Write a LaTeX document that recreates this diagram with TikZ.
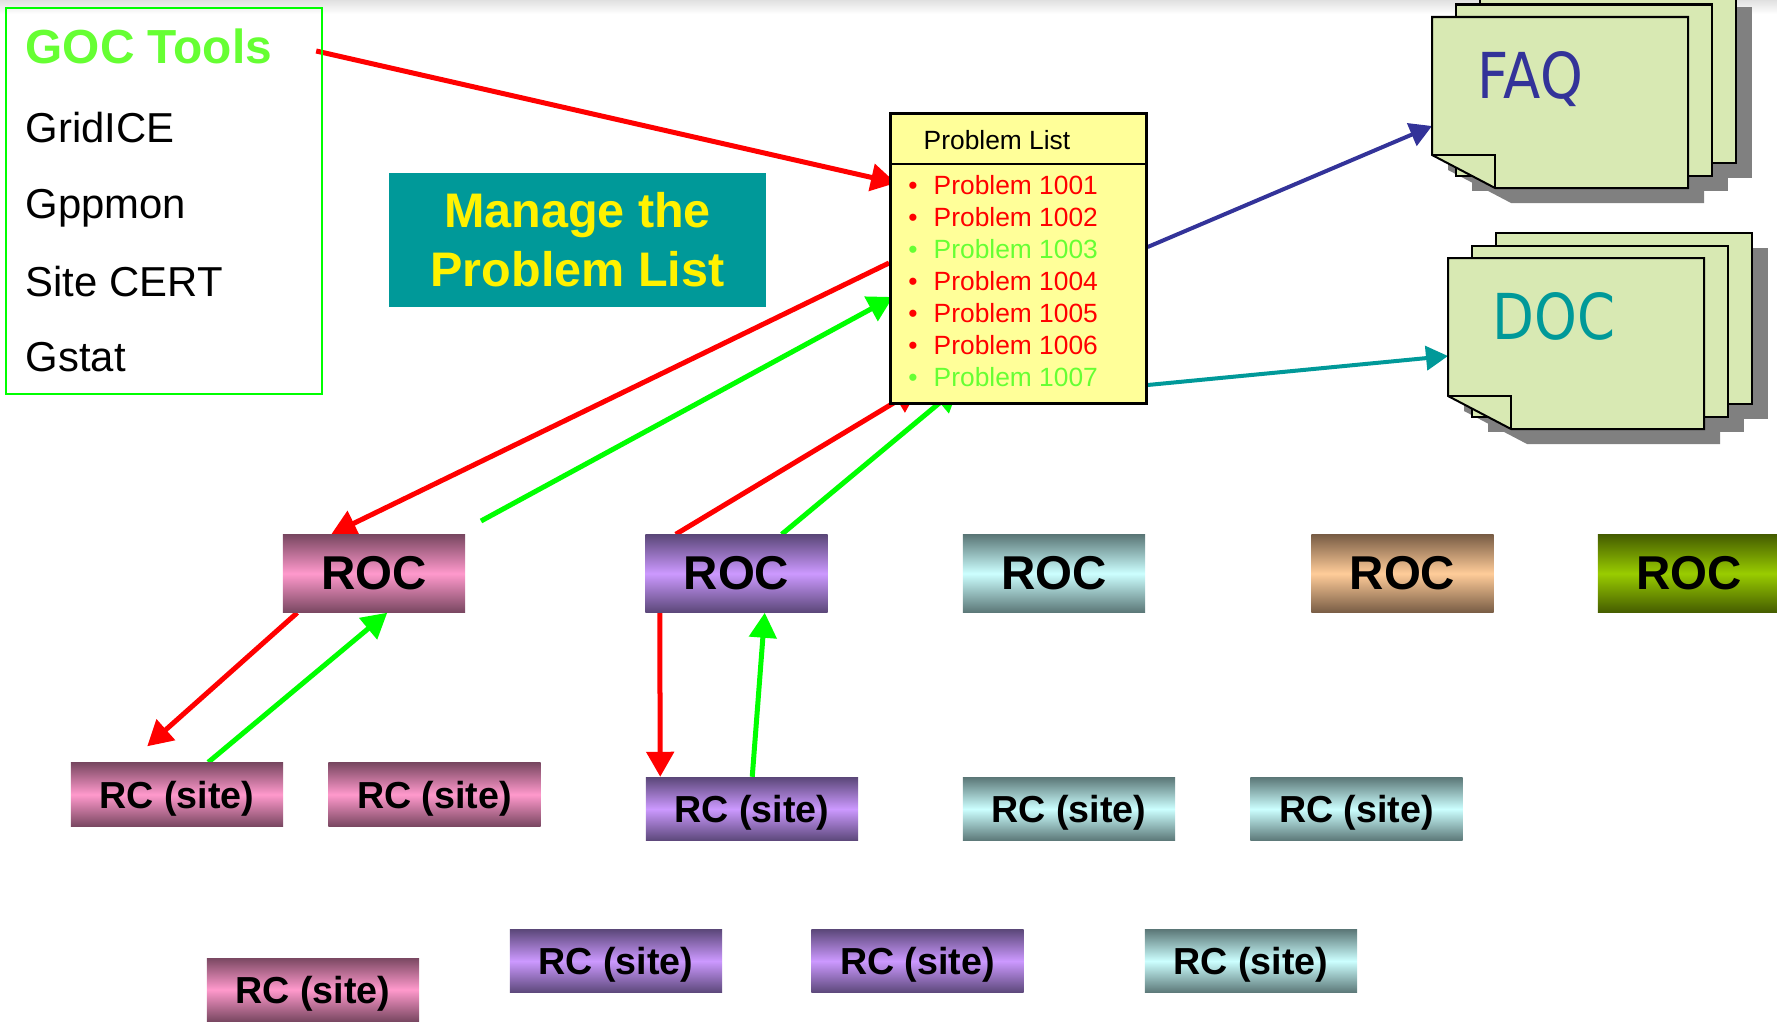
\documentclass[tikz,border=0pt]{standalone}
\usepackage{fontspec}
\setmainfont{Liberation Sans}
\newfontfamily\pagefont{DejaVu Sans}
\usetikzlibrary{arrows.meta, calc, backgrounds}

\definecolor{pinklight}{RGB}{255,153,204}
\definecolor{pinkdark}{RGB}{122,72,98}
\definecolor{purplelight}{RGB}{204,153,255}
\definecolor{purpledark}{RGB}{92,72,122}
\definecolor{cyanlight}{RGB}{204,255,255}
\definecolor{cyandark}{RGB}{92,120,120}
\definecolor{peachlight}{RGB}{255,204,153}
\definecolor{peachdark}{RGB}{122,94,70}
\definecolor{olivelight}{RGB}{153,204,0}
\definecolor{olivedark}{RGB}{70,94,0}
\definecolor{listyellow}{RGB}{255,255,153}
\definecolor{okgreen}{RGB}{102,255,51}
\definecolor{arrowgreen}{RGB}{0,255,0}
\definecolor{faqblue}{RGB}{51,51,153}
\definecolor{docteal}{RGB}{0,153,153}
\definecolor{pagegreen}{RGB}{216,233,179}
\definecolor{pageshadow}{RGB}{128,128,128}

\tikzset{
every node/.style={inner sep=0pt}, % tight boxes, sizes given by hand
>={Triangle[length=0.25cm,width=0.27cm]}, % big slide-like arrow heads
flow/.style={->, line width=0.05cm}, % problem going up or down
roc/.style={minimum width=1.82cm, minimum height=0.77cm, font=\bfseries\fontsize{13.5}{16}\selectfont}, % regional centres
rc/.style={minimum width=2.12cm, minimum height=0.63cm, text depth=0pt, font=\bfseries\fontsize{10.7}{13}\selectfont}, % sites
pinkbar/.style={top color=pinkdark, bottom color=pinkdark, middle color=pinklight},
purplebar/.style={top color=purpledark, bottom color=purpledark, middle color=purplelight},
cyanbar/.style={top color=cyandark, bottom color=cyandark, middle color=cyanlight},
peachbar/.style={top color=peachdark, bottom color=peachdark, middle color=peachlight},
olivebar/.style={top color=olivedark, bottom color=olivedark, middle color=olivelight},
toolname/.style={anchor=base west, font=\fontsize{11.9}{14}\selectfont}, % entries of the tools box
probitem/.style={anchor=base west, font=\fontsize{7.5}{9}\selectfont}, % lines of the problem list
pagelabel/.style={anchor=base west, font=\pagefont\fontsize{18}{22}\selectfont, xscale=0.86}, % FAQ and DOC
}

% a pile of three sheets, front sheet with a folded corner; #1,#2 = top left of front sheet
\newcommand{\pagestack}[2]{%
\begin{scope}[shift={(#1,#2)}]
\fill[pageshadow] (64,-10) rectangle +(256,171);
\fill[pageshadow] (40,2.5) rectangle +(256,171);
\fill[pageshadow] (16,15) -- (272,15) -- (272,186) -- (79,186) -- (16,153) -- cycle;
\filldraw[fill=pagegreen, line width=0.02cm] (48,-25) rectangle +(256,171);
\filldraw[fill=pagegreen, line width=0.02cm] (24,-12.5) rectangle +(256,171);
\filldraw[fill=pagegreen, line width=0.02cm] (0,0) -- (256,0) -- (256,171) -- (63,171) -- (0,138) -- cycle;
\draw[line width=0.02cm] (0,138) -- (63,138) -- (63,171);
\end{scope}}

\begin{document}
\begin{tikzpicture}[x=0.01cm, y=-0.01cm]
\useasboundingbox (0,0) rectangle (1777,1021);
\shade[top color=black!12, bottom color=white] (0,0) rectangle (1777,14);

% monitoring tools
\node[draw=arrowgreen, line width=0.02cm, minimum width=3.16cm, minimum height=3.86cm, anchor=north west] (tools) at (5,7) {};
\node[toolname, text=okgreen, font=\bfseries\fontsize{13.6}{16}\selectfont] (goc) at (25,63) {GOC Tools};
\node[toolname] (gridice) at (25,142) {GridICE};
\node[toolname] (gppmon) at (25,218) {Gppmon};
\node[toolname] (sitecert) at (25,296) {Site CERT};
\node[toolname] (gstat) at (25,371) {Gstat};

\node[fill=docteal, text=yellow, align=center, minimum width=3.77cm, minimum height=1.34cm, font=\bfseries\fontsize{13.8}{16.8}\selectfont] (manage) at (577.5,240) {Manage the\\Problem List};

% the list itself
\node[draw, line width=0.025cm, fill=listyellow, minimum width=2.56cm, minimum height=2.90cm, anchor=north west] (plist) at (889,112) {};
\draw[line width=0.025cm] ($(plist.north west)+(0,52)$) -- ($(plist.north east)+(0,52)$);
\node[probitem] (plhead) at (923,149) {Problem List};
\foreach \n/\c [count=\i from 0] in {1001/red,1002/red,1003/okgreen,1004/red,1005/red,1006/red,1007/okgreen}{
\node[probitem, text=\c, anchor=base] (b\n) at (913,{194+32*\i}) {\textbullet};
\node[probitem, text=\c] (p\n) at (933,{194+32*\i}) {Problem \n};
}

% FAQ and DOC piles
\pagestack{1432}{17}
\node[minimum width=2.56cm, minimum height=1.71cm, anchor=north west] (faqpage) at (1432,17) {};
\node[pagelabel, text=faqblue] (faq) at (1477,98) {FAQ};
\pagestack{1448}{258}
\node[minimum width=2.56cm, minimum height=1.71cm, anchor=north west] (docpage) at (1448,258) {};
\node[pagelabel, text=docteal] (doc) at (1492,339) {DOC};

% ROCs
\node[roc, pinkbar] (roc1) at (374,573.5) {ROC};
\node[roc, purplebar] (roc2) at (736.5,573.5) {ROC};
\node[roc, cyanbar] (roc3) at (1054,573.5) {ROC};
\node[roc, peachbar] (roc4) at (1402.5,573.5) {ROC};
\node[roc, olivebar] (roc5) at (1689,573.5) {ROC};

% sites
\node[rc, pinkbar] (rc1) at (177,794.5) {RC (site)};
\node[rc, pinkbar] (rc2) at (434.5,794.5) {RC (site)};
\node[rc, purplebar] (rc3) at (752,809) {RC (site)};
\node[rc, cyanbar] (rc4) at (1069,809) {RC (site)};
\node[rc, cyanbar] (rc5) at (1356.5,809) {RC (site)};
\node[rc, pinkbar] (rc6) at (313,989.5) {RC (site)};
\node[rc, purplebar] (rc7) at (616,961) {RC (site)};
\node[rc, purplebar] (rc8) at (917.5,961) {RC (site)};
\node[rc, cyanbar] (rc9) at (1251,961) {RC (site)};

% arrows go under the boxes
\begin{pgfonlayer}{background}
\coordinate (fixed1) at (481,521);
\draw[flow, red] ($(tools.north east)+(-7,44)$) -- ($(plist.north west)+(7,71)$);
\draw[flow, red] ($(plist.north west)+(0,151)$) -- ($(roc1.north west)+(49,0)$);
\draw[flow, arrowgreen] (fixed1) -- ($(plist.north west)+(4,185)$);
\draw[flow, red] ($(roc2.north west)+(31,0)$) -- ($(plist.south west)+(30,-17)$);
\draw[flow, arrowgreen] ($(roc2.north west)+(137,0)$) -- ($(plist.south west)+(70,-18)$);
\draw[flow, red] ($(roc1.south west)+(15,0)$) -- ($(rc1.north west)+(77,-16)$);
\draw[flow, arrowgreen] ($(rc1.north west)+(138,0)$) -- ($(roc1.south west)+(105,0)$);
\draw[flow, red] ($(roc2.south west)+(15,0)$) -- ($(rc3.north west)+(15,0)$);
\draw[flow, arrowgreen] ($(rc3.north west)+(107,0)$) -- ($(roc2.south west)+(120,0)$);
\draw[-{Triangle[length=0.22cm,width=0.24cm]}, faqblue, line width=0.04cm] ($(plist.north east)+(0,135)$) -- ($(faqpage.north west)+(0,109)$);
\draw[-{Triangle[length=0.22cm,width=0.24cm]}, docteal, line width=0.04cm] ($(plist.north east)+(0,273)$) -- ($(docpage.north west)+(0,98)$);
\end{pgfonlayer}
\end{tikzpicture}
\end{document}
